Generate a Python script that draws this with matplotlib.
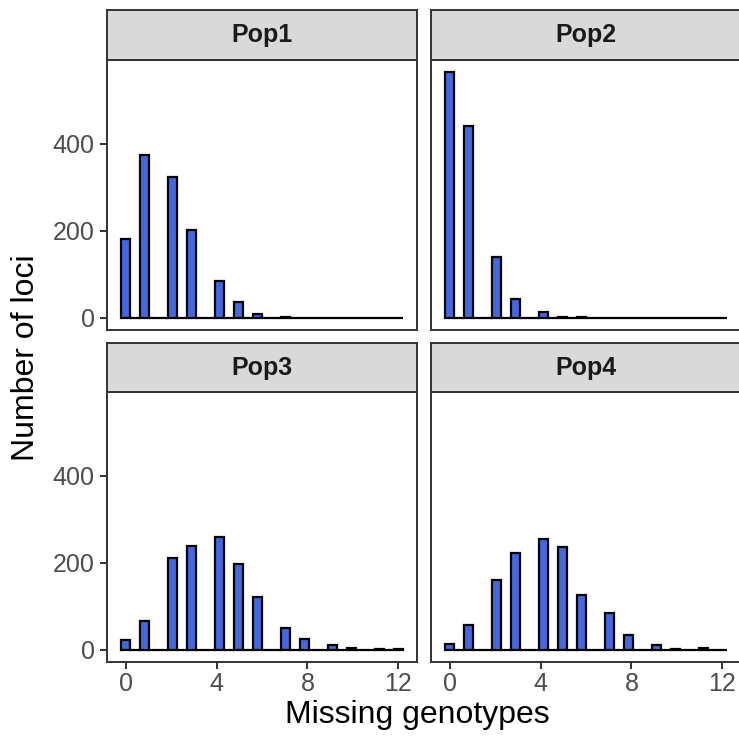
import numpy as np
import matplotlib
matplotlib.use("Agg")
import matplotlib.pyplot as plt

# counts of loci per number of missing genotypes (0..12)
missing = np.arange(13)
pops = ["Pop1", "Pop2", "Pop3", "Pop4"]
pop1 = [181, 375, 325, 201, 85, 36, 8, 2, 0, 0, 0, 0, 0]
pop2 = [565, 442, 140, 44, 13, 2, 2, 0, 0, 0, 0, 0, 0]
pop3 = [22, 67, 210, 239, 259, 197, 122, 50, 24, 10, 5, 1, 2]
pop4 = [14, 58, 161, 222, 254, 236, 127, 85, 33, 12, 2, 3, 0]
counts = [pop1, pop2, pop3, pop4]

x_ticks = [0, 4, 8, 12]
y_ticks = [0, 200, 400]

plt.rcParams["font.family"] = ["Liberation Sans", "DejaVu Sans"]

# ggplot-like histogram: 30 bins, right-closed
n_bins = 30
w = (missing.max() - missing.min()) / (n_bins - 1)
edges = missing.min() - w / 2 + w * np.arange(n_bins + 1)
centers = (edges[:-1] + edges[1:]) / 2
fuzz = 1e-7 * w

W, H = 739, 736
fig = plt.figure(figsize=(W / 100, H / 100), dpi=100)

col_left = [107, 431]
panel_w = 310
row_top = [60, 392]
panel_h = 270
strip_top = [10, 343]

edge_col = "#333333"
ymax = max(max(c) for c in counts)
ylim = (-0.05 * ymax, 1.05 * ymax)
span = edges[-1] - edges[0]
xlim = (edges[0] - 0.05 * span, edges[-1] + 0.05 * span)

for i, (name, vals) in enumerate(zip(pops, counts)):
    r, c = divmod(i, 2)
    left = col_left[c] / W
    bottom = (H - row_top[r] - panel_h) / H
    ax = fig.add_axes([left, bottom, panel_w / W, panel_h / H])

    idx = np.digitize(missing, edges + fuzz, right=True) - 1
    binned = np.bincount(idx, weights=vals, minlength=n_bins)
    ax.bar(centers, binned, width=w, color="#4169E1", edgecolor="black",
           linewidth=1.6, align="center")

    ax.set_xlim(xlim)
    ax.set_ylim(ylim)
    ax.set_xticks(x_ticks)
    ax.set_yticks(y_ticks)
    for s in ax.spines.values():
        s.set_color(edge_col)
        s.set_linewidth(1.4)
    ax.tick_params(colors=edge_col, width=1.4, length=5, labelsize=18,
                   labelcolor="#4D4D4D")
    ax.tick_params(axis="x", pad=2.5)
    ax.tick_params(axis="y", pad=4)
    if c == 1:
        ax.tick_params(axis="y", length=0, labelleft=False)
    if r == 0:
        ax.tick_params(axis="x", length=0, labelbottom=False)

    # facet strip
    sb = (H - row_top[r]) / H
    sh = (row_top[r] - strip_top[r]) / H
    sax = fig.add_axes([left, sb, panel_w / W, sh])
    sax.set_facecolor("#D9D9D9")
    sax.set_xticks([])
    sax.set_yticks([])
    for s in sax.spines.values():
        s.set_color(edge_col)
        s.set_linewidth(1.4)
    sax.text(0.5, 0.5, name, transform=sax.transAxes, ha="center",
             va="center", fontsize=18, fontweight="bold", color="#1A1A1A")

fig.text(417 / W, (H - 723) / H, "Missing genotypes", ha="center",
         va="baseline", fontsize=23)
fig.text(26 / W, (H - 358) / H, "Number of loci", ha="center", va="center",
         rotation=90, fontsize=23)

fig.savefig("out.png", dpi=100)
